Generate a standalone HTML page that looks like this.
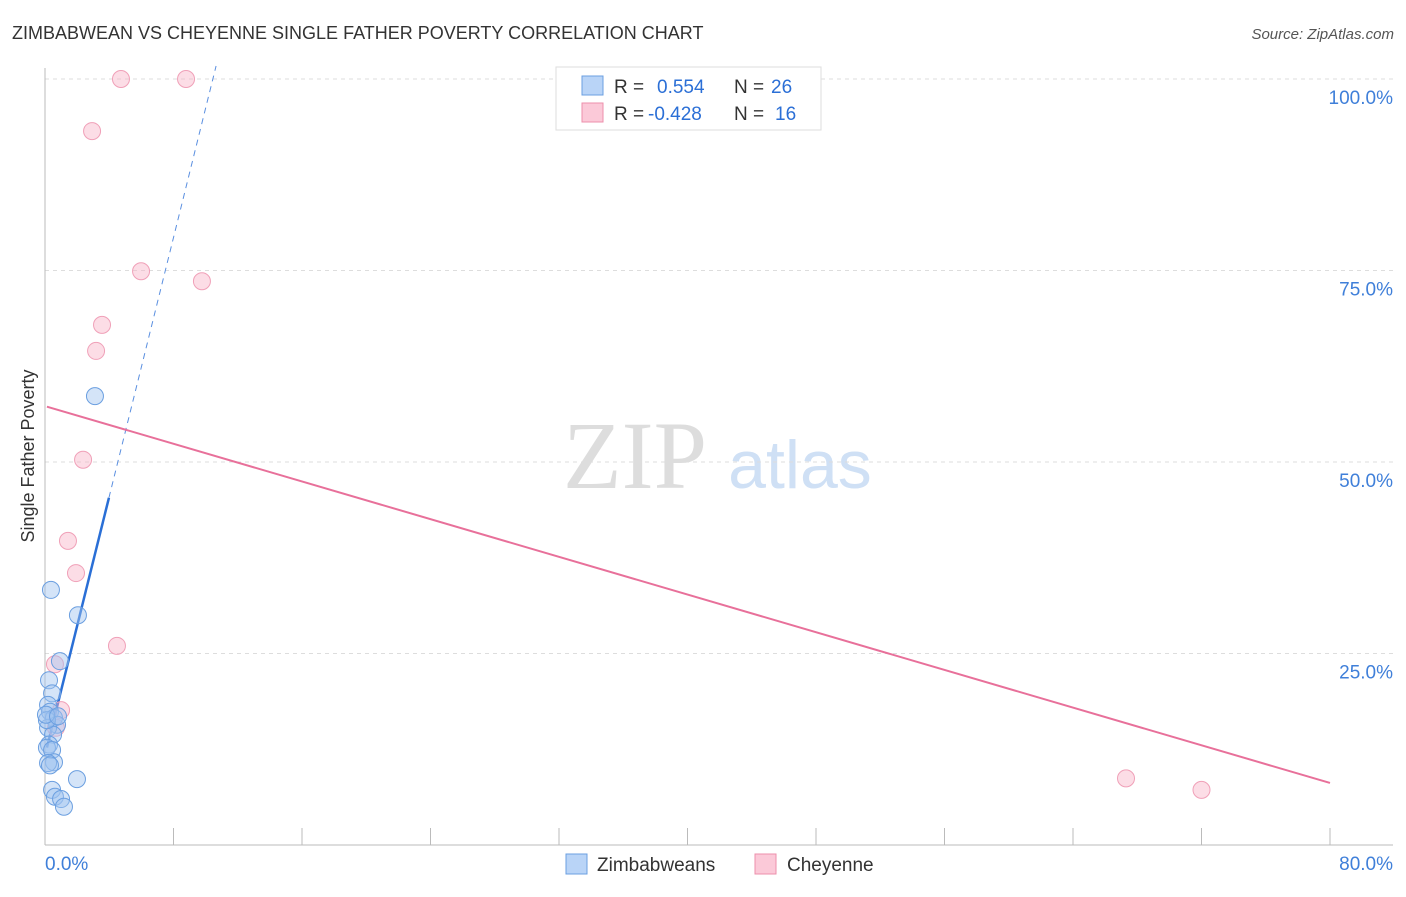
<!DOCTYPE html>
<html><head><meta charset="utf-8"><style>
body{margin:0;background:#fff;font-family:"Liberation Sans",sans-serif;}
</style></head><body>
<svg width="1406" height="892" xmlns="http://www.w3.org/2000/svg" style="font-family:'Liberation Sans',sans-serif">
<text x="12" y="39" font-size="18" fill="#333">ZIMBABWEAN VS CHEYENNE SINGLE FATHER POVERTY CORRELATION CHART</text>
<text x="1394" y="39" font-size="15" fill="#555" text-anchor="end" font-style="italic">Source: ZipAtlas.com</text>
<text transform="translate(34,456) rotate(-90)" font-size="18" fill="#333" text-anchor="middle">Single Father Poverty</text>
<g>
<text x="635" y="488" font-size="96" fill="#ddd" font-family="Liberation Serif,serif" text-anchor="middle">ZIP</text>
<text x="800" y="488" font-size="68" fill="#cfe0f5" text-anchor="middle">atlas</text>
</g>
<g id="grid"></g>
<g id="axes"></g>
<g id="lines"></g>
<g id="pts"></g>
<g>
<rect x="556" y="67" width="265" height="63" fill="#fff" stroke="#ddd"/>
<rect x="582" y="76" width="21" height="19" fill="#b9d4f7" stroke="#6b9fe0"/>
<rect x="582" y="103" width="21" height="19" fill="#fbc9d8" stroke="#ec8fab"/>
<text x="614" y="93" font-size="19" fill="#333">R = <tspan fill="#2b6fd6" x="657">0.554</tspan><tspan fill="#333" x="734">N = </tspan><tspan fill="#2b6fd6" x="771">26</tspan></text>
<text x="614" y="120" font-size="19" fill="#333">R = <tspan fill="#2b6fd6" x="648">-0.428</tspan><tspan fill="#333" x="734">N = </tspan><tspan fill="#2b6fd6" x="775">16</tspan></text>
</g>
<g>
<rect x="566" y="854" width="21" height="20" fill="#b9d4f7" stroke="#6b9fe0"/>
<text x="597" y="871" font-size="19" fill="#333">Zimbabweans</text>
<rect x="755" y="854" width="21" height="20" fill="#fbc9d8" stroke="#ec8fab"/>
<text x="787" y="871" font-size="19" fill="#333">Cheyenne</text>
</g>
</svg>
<script>
const xTicks=[0,80];
const yTicks=[25,50,75,100];
const blueX=[3.11,0.37,2.05,0.93,0.25,0.44,0.19,0.31,0.56,0.75,0.19,0.50,0.25,0.12,0.44,0.56,0.19,0.31,1.99,0.44,0.62,1.00,1.18,0.12,0.06,0.81];
const blueY=[58.6,33.3,30.0,24.0,21.5,19.8,18.3,17.4,16.6,15.7,15.3,14.4,13.1,12.7,12.4,10.8,10.7,10.4,8.6,7.2,6.3,6.0,5.0,16.3,17.0,16.8];
const pinkX=[4.73,8.78,2.93,5.98,9.77,3.55,3.18,2.37,1.43,1.93,4.48,0.62,1.00,0.68,67.3,72.0];
const pinkY=[100,100,93.2,74.9,73.6,67.9,64.5,50.3,39.7,35.5,26.0,23.6,17.6,15.3,8.7,7.2];
const NS="http://www.w3.org/2000/svg";
const sx=v=>45+v*1285/80, sy=v=>845-v*7.66;
function mk(p,t,a){const e=document.createElementNS(NS,t);for(const k in a)e.setAttribute(k,a[k]);document.getElementById(p).appendChild(e);return e;}
yTicks.forEach(t=>{
 const g=mk('grid','line',{x1:45,x2:1393,y1:sy(t),y2:sy(t),stroke:'#ddd','stroke-dasharray':'4,4'});
 
 
 const l=mk('grid','text',{x:1393,y:sy(t)+25,'font-size':19,fill:'#3f7fd9','text-anchor':'end'});
 l.textContent=t.toFixed(1)+'%';
 
 
});
mk('axes','line',{x1:45,x2:45,y1:68,y2:845,stroke:'#bbb'});
mk('axes','line',{x1:45,x2:1393,y1:845,y2:845,stroke:'#bbb'});
for(let i=0;i<=10;i++){mk('axes','line',{x1:sx(i*8),x2:sx(i*8),y1:828,y2:845,stroke:'#bbb'});}
xTicks.forEach((t,i)=>{
 const l=mk('axes','text',{x:i?1393:45,y:870,'font-size':19,fill:'#3f7fd9','text-anchor':i?'end':'start'});
 l.textContent=t.toFixed(1)+'%';
 
 
});
// trend lines
const bl=x=>11.7+8.45*x, pl=x=>57.3-0.615*x;
let e=mk('lines','line',{x1:sx(0.12),y1:sy(bl(0.12)),x2:sx(3.98),y2:sy(bl(3.98)),stroke:'#2a6fd6','stroke-width':2.5});


e=mk('lines','line',{x1:sx(3.98),y1:sy(bl(3.98)),x2:sx(10.65),y2:sy(bl(10.65)),stroke:'#5a8fe0','stroke-width':1,'stroke-dasharray':'6,5'});


e=mk('lines','line',{x1:sx(0.12),y1:sy(pl(0.12)),x2:sx(80),y2:sy(pl(80)),stroke:'#e8709a','stroke-width':2});


pinkX.forEach((x,i)=>{
 const c=mk('pts','circle',{cx:sx(x),cy:sy(pinkY[i]),r:8.5,fill:'rgba(248,180,200,0.45)',stroke:'#f0a0b8','stroke-width':1});
 
 
});
blueX.forEach((x,i)=>{
 const c=mk('pts','circle',{cx:sx(x),cy:sy(blueY[i]),r:8.5,fill:'rgba(160,195,240,0.45)',stroke:'#6b9fe0','stroke-width':1});
 
 
});
</script>
</body></html>
